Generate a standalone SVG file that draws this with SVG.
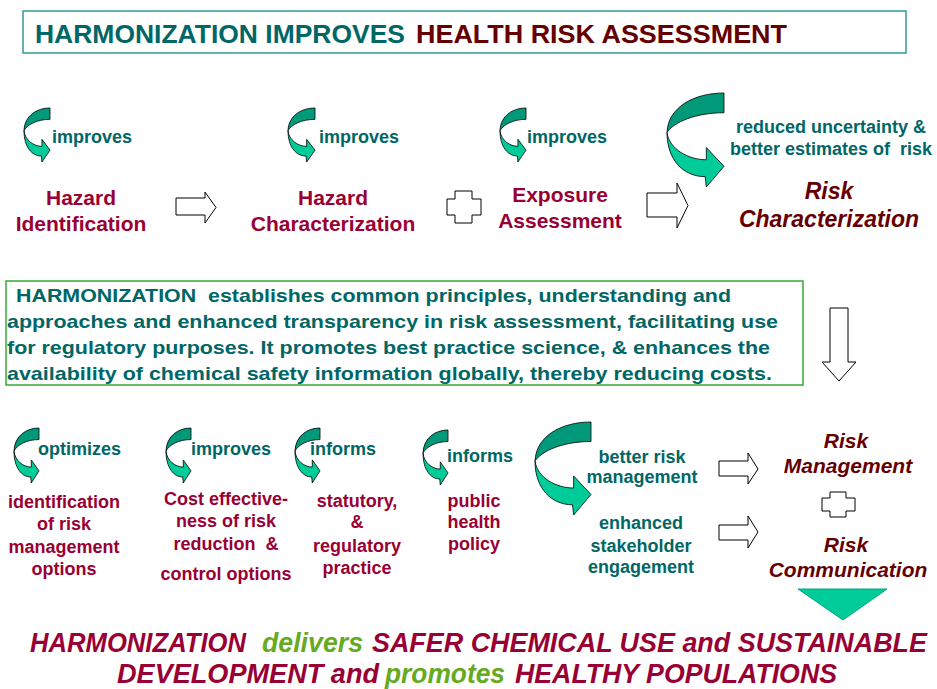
<svg xmlns="http://www.w3.org/2000/svg" xmlns:xlink="http://www.w3.org/1999/xlink" width="937" height="689" viewBox="0 0 937 689">
<style>
text{font-family:"Liberation Sans",Arial,sans-serif;font-weight:bold}
.teal{fill:#006666}
.red{fill:#990033}
.dred{fill:#660000}
.green{fill:#66AA22}
.it{font-style:italic}
.lbl{font-size:18px}
.node{font-size:21px;text-anchor:middle}
.big{font-size:23px}
.rlbl{font-size:18px;text-anchor:middle}
.body{font-size:19px}
.ttl{font-size:25px}
.concl{font-size:27px;font-style:italic}
.blk{fill:#ffffff;stroke:#000000;stroke-width:1}
.cdark{fill:#00997A;stroke:#000;stroke-width:0.8}
.clight{fill:#00CC99;stroke:#000;stroke-width:0.8}
</style>
<defs>
<g id="carrow">
<path class="cdark" vector-effect="non-scaling-stroke" d="M100,0 C50,0 2,14 0,42 C12,31 50,21 100,21 Z"/>
<path class="clight" vector-effect="non-scaling-stroke" d="M0,42 C4,60 38,71 69,71 L69,58 L100,78 L69,100 L67,89 C30,89 0,72 0,42 Z"/>
</g>
</defs>
<rect width="937" height="689" fill="#ffffff"/>

<g id="title">
<rect x="23" y="11" width="883" height="42" fill="none" stroke="#339999" stroke-width="1.5"/>
<text class="teal ttl" x="35" y="43" textLength="370" lengthAdjust="spacingAndGlyphs">HARMONIZATION IMPROVES</text>
<text class="dred ttl" x="416" y="43" textLength="371" lengthAdjust="spacingAndGlyphs">HEALTH RISK ASSESSMENT</text>
</g>

<g id="connectors">
<use xlink:href="#carrow" transform="translate(24,108) scale(0.26,0.54)"/>
<use xlink:href="#carrow" transform="translate(288,108) scale(0.27,0.54)"/>
<use xlink:href="#carrow" transform="translate(500,108) scale(0.26,0.54)"/>
<use xlink:href="#carrow" transform="translate(667,93) scale(0.57,0.94)"/>
<use xlink:href="#carrow" transform="translate(14,428) scale(0.25,0.55)"/>
<use xlink:href="#carrow" transform="translate(166,428) scale(0.25,0.55)"/>
<use xlink:href="#carrow" transform="translate(295,428) scale(0.25,0.55)"/>
<use xlink:href="#carrow" transform="translate(423,430) scale(0.25,0.55)"/>
<use xlink:href="#carrow" transform="translate(535,422) scale(0.56,0.93)"/>
<polygon class="blk" points="176,198 205,198 205,192 216,207.5 205,223 205,215 176,215"/>
<polygon class="blk" points="455,191 472,191 472,199 481,199 481,215 472,215 472,223 455,223 455,215 447,215 447,199 455,199"/>
<polygon class="blk" points="647,193 677,193 677,183 688,205.5 677,228 677,217 647,217"/>
<polygon class="blk" points="830,308 848,308 848,362 856,362 839,381 822,362 830,362"/>
<polygon class="blk" points="719,461 748,461 748,453 758,469 748,484 748,476 719,476"/>
<polygon class="blk" points="719,525 748,525 748,516 758,532 748,548 748,540 719,540"/>
<polygon class="blk" points="830,492 846,492 846,498 855,498 855,511 846,511 846,517 830,517 830,511 822,511 822,498 830,498"/>
<polygon points="798,589 887,589 843,620" fill="#00CC99" stroke="#00A67C" stroke-width="1"/>
</g>

<g id="hazard-identification">
<text class="teal lbl" x="52" y="143">improves</text>
<text class="red node" x="81" y="205">Hazard</text>
<text class="red node" x="81" y="231">Identification</text>
</g>
<g id="hazard-characterization">
<text class="teal lbl" x="319" y="143">improves</text>
<text class="red node" x="333" y="205">Hazard</text>
<text class="red node" x="333" y="231">Characterization</text>
</g>
<g id="exposure-assessment">
<text class="teal lbl" x="527" y="143">improves</text>
<text class="red node" x="560" y="202">Exposure</text>
<text class="red node" x="560" y="228">Assessment</text>
</g>
<g id="risk-characterization">
<text class="teal lbl" x="831" y="133" text-anchor="middle">reduced uncertainty &amp;</text>
<text class="teal lbl" x="831" y="155" text-anchor="middle" xml:space="preserve">better estimates of  risk</text>
<text class="dred node it big" x="829" y="199">Risk</text>
<text class="dred node it big" x="829" y="227">Characterization</text>
</g>

<g id="harmonization-box">
<rect x="6" y="281" width="797" height="104" fill="none" stroke="#33AA33" stroke-width="1.5"/>
<text class="teal body" x="16" y="302" textLength="715" lengthAdjust="spacingAndGlyphs" xml:space="preserve">HARMONIZATION  establishes common principles, understanding and</text>
<text class="teal body" x="7" y="328" textLength="771" lengthAdjust="spacingAndGlyphs">approaches and enhanced transparency in risk assessment, facilitating use</text>
<text class="teal body" x="7" y="354" textLength="763" lengthAdjust="spacingAndGlyphs">for regulatory purposes. It promotes best practice science, &amp; enhances the</text>
<text class="teal body" x="7" y="380" textLength="765" lengthAdjust="spacingAndGlyphs">availability of chemical safety information globally, thereby reducing costs.</text>
</g>

<g id="risk-management-options">
<text class="teal lbl" x="38" y="455">optimizes</text>
<text class="red rlbl" x="64" y="508">identification</text>
<text class="red rlbl" x="64" y="530">of risk</text>
<text class="red rlbl" x="64" y="553">management</text>
<text class="red rlbl" x="64" y="575">options</text>
</g>
<g id="cost-effectiveness">
<text class="teal lbl" x="191" y="455">improves</text>
<text class="red rlbl" x="226" y="505">Cost effective-</text>
<text class="red rlbl" x="226" y="527">ness of risk</text>
<text class="red rlbl" x="226" y="550" xml:space="preserve">reduction  &amp;</text>
<text class="red rlbl" x="226" y="580">control options</text>
</g>
<g id="regulatory-practice">
<text class="teal lbl" x="310" y="455">informs</text>
<text class="red rlbl" x="357" y="507">statutory,</text>
<text class="red rlbl" x="357" y="528">&amp;</text>
<text class="red rlbl" x="357" y="552">regulatory</text>
<text class="red rlbl" x="357" y="574">practice</text>
</g>
<g id="public-health-policy">
<text class="teal lbl" x="447" y="462">informs</text>
<text class="red rlbl" x="474" y="507">public</text>
<text class="red rlbl" x="474" y="528">health</text>
<text class="red rlbl" x="474" y="550">policy</text>
</g>
<g id="outcomes">
<text class="teal rlbl" x="642" y="463">better risk</text>
<text class="teal rlbl" x="642" y="483">management</text>
<text class="teal rlbl" x="641" y="529">enhanced</text>
<text class="teal rlbl" x="641" y="552">stakeholder</text>
<text class="teal rlbl" x="641" y="573">engagement</text>
</g>
<g id="risk-management">
<text class="dred node it" x="846" y="448">Risk</text>
<text class="dred node it" x="848" y="473">Management</text>
</g>
<g id="risk-communication">
<text class="dred node it" x="846" y="552">Risk</text>
<text class="dred node it" x="848" y="577">Communication</text>
</g>

<g id="conclusion">
<text class="red concl" x="30" y="652" textLength="216" lengthAdjust="spacingAndGlyphs">HARMONIZATION</text>
<text class="green concl" x="262" y="652" textLength="101" lengthAdjust="spacingAndGlyphs">delivers</text>
<text class="red concl" x="372" y="652" textLength="555" lengthAdjust="spacingAndGlyphs">SAFER CHEMICAL USE and SUSTAINABLE</text>
<text class="red concl" x="117" y="683" textLength="262" lengthAdjust="spacingAndGlyphs">DEVELOPMENT and</text>
<text class="green concl" x="385" y="683" textLength="120" lengthAdjust="spacingAndGlyphs">promotes</text>
<text class="red concl" x="515" y="683" textLength="322" lengthAdjust="spacingAndGlyphs">HEALTHY POPULATIONS</text>
</g>
</svg>
